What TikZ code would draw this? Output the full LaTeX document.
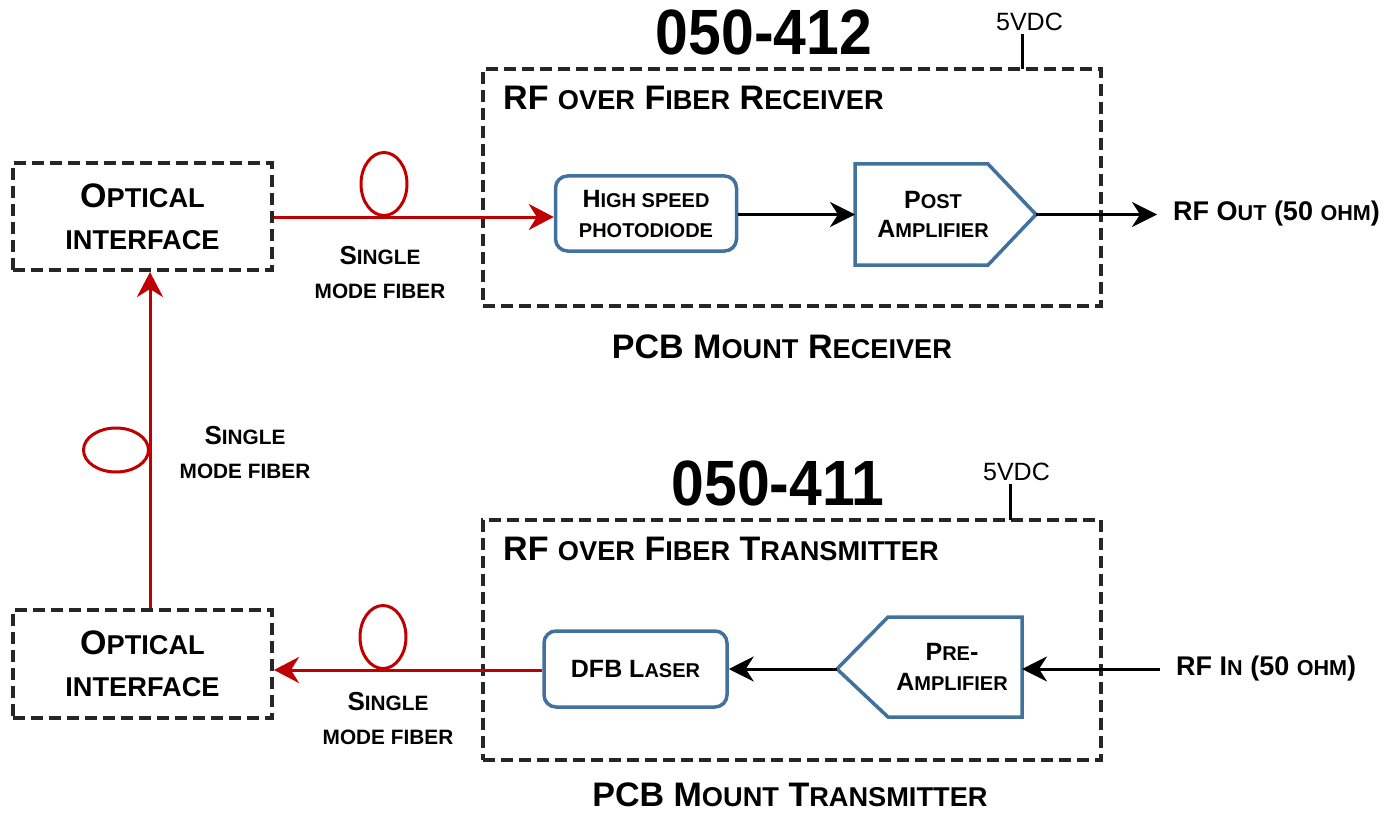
\documentclass[tikz,border=0pt]{standalone}
\usepackage{fontspec}
\setmainfont{Liberation Sans}
\newfontfamily\narrowfont{Liberation Sans}[FakeStretch=0.92]
\usetikzlibrary{positioning}
\usetikzlibrary{arrows.meta}
\usetikzlibrary{shapes}

\definecolor{fibred}{RGB}{192,0,0}
\definecolor{boxblue}{RGB}{65,113,156}
\definecolor{dashgray}{RGB}{38,38,38}

% fake small capitals
\newcommand{\lc}[1]{\scalebox{0.8}{#1}}

\begin{document}
\begin{tikzpicture}[x=1pt,y=-1pt,
  module/.style={draw=dashgray,line width=4pt,dash pattern=on 12pt off 6pt,inner sep=0pt},
  iface/.style={module,align=center,font=\fontsize{34}{42}\selectfont\bfseries},
  part/.style={draw=boxblue,line width=3.5pt,rounded corners=12pt,inner sep=0pt,align=center,font=\fontsize{25}{30}\selectfont\bfseries},
  amptext/.style={align=center,inner sep=0pt,font=\fontsize{25}{29.5}\selectfont\bfseries},
  ampline/.style={draw=boxblue,line width=3.5pt},
  sig/.style={draw=black,line width=3pt,-{Stealth[length=25pt,width=25pt,inset=8pt]}},
  fiber/.style={draw=fibred,line width=3pt,-{Stealth[length=25pt,width=26pt,inset=8pt]}},
  coil/.style={ellipse,draw=fibred,line width=3pt,inner sep=0pt},
  note/.style={align=center,font=\fontsize{26}{34}\selectfont\bfseries},
  heading/.style={anchor=base west,inner sep=0pt,font=\fontsize{34}{40}\selectfont\bfseries},
  caption/.style={font=\fontsize{34}{40}\selectfont\bfseries},
  partno/.style={font=\fontsize{64}{70}\selectfont\narrowfont\bfseries},
  volt/.style={font=\fontsize{25}{30}\selectfont},
  port/.style={anchor=west,inner xsep=16pt,font=\fontsize{27}{30}\selectfont\bfseries}
]
\useasboundingbox (0,0) rectangle (1399,813);

% optical interfaces
\node[iface,minimum width=259pt,minimum height=107pt] (optA) at (142.5,216.5) {O\lc{PTICAL}\\\lc{INTERFACE}};
\node[iface,minimum width=259pt,minimum height=108pt] (optB) at (142.5,664) {O\lc{PTICAL}\\\lc{INTERFACE}};

% receiver module
\node[module,minimum width=618pt,minimum height=237pt] (rxbox) at (792,187.5) {};
\node[partno] (rxno) at (764,32.5) {050-412};
\node[volt] (rxvdc) at (1029.5,22) {5VDC};
\node[heading] (rxtitle) at (503,110) {RF \lc{OVER} F\lc{IBER} R\lc{ECEIVER}};
\node[part,minimum width=181pt,minimum height=75pt] (pd) at (646,213.5) {H\lc{IGH SPEED}\\\lc{PHOTODIODE}};
\node[amptext] (postamp) at (933,214.5) {P\lc{OST}\\A\lc{MPLIFIER}};
\draw[ampline] (855,164) -- (988,164) -- (1036,214.5) -- (988,265) -- (855,265) -- cycle;
\coordinate (postamp-in) at (855,214.5);
\coordinate (postamp-out) at (1036,214.5);
\node[port] (rfout) at (1157,214) {RF O\lc{UT} (50 \lc{OHM})};
\node[caption] (rxcap) at (782,346.5) {PCB M\lc{OUNT} R\lc{ECEIVER}};
\coordinate (rxpwr) at (1022,69);

% transmitter module
\node[module,minimum width=618pt,minimum height=240pt] (txbox) at (792,640) {};
\node[partno] (txno) at (778,483.5) {050-411};
\node[volt] (txvdc) at (1016.5,472) {5VDC};
\node[heading] (txtitle) at (503,560) {RF \lc{OVER} F\lc{IBER} T\lc{RANSMITTER}};
\node[part,minimum width=183pt,minimum height=76pt] (dfb) at (635.5,669) {DFB L\lc{ASER}};
\node[amptext] (preamp) at (952,667) {P\lc{RE}-\\A\lc{MPLIFIER}};
\draw[ampline] (1022,617) -- (888,617) -- (837,669) -- (888,717) -- (1022,717) -- cycle;
\coordinate (preamp-in) at (1022,669);
\coordinate (preamp-out) at (837,669);
\node[port] (rfin) at (1160,669) {RF I\lc{N} (50 \lc{OHM})};
\node[caption] (txcap) at (790,795) {PCB M\lc{OUNT} T\lc{RANSMITTER}};
\coordinate (txpwr) at (1010,520);

% fibre runs
\coordinate (riser) at (150,450);
\node[coil,minimum width=46pt,minimum height=63pt,anchor=south] (coilA) at (384,217) {};
\node[coil,minimum width=46pt,minimum height=63pt,anchor=south] (coilB) at (383,670) {};
\node[coil,minimum width=65pt,minimum height=44pt,anchor=east] (coilC) at (riser) {};
\node[note] (fibA) at (380,273) {S\lc{INGLE}\\\lc{MODE FIBER}};
\node[note] (fibB) at (245,453) {S\lc{INGLE}\\\lc{MODE FIBER}};
\node[note] (fibC) at (388,719) {S\lc{INGLE}\\\lc{MODE FIBER}};

\path
  (optA.east |- 0,217) edge[fiber] (pd.west |- 0,217)
  (dfb.west |- 0,670) edge[fiber] (optB.east |- 0,670)
  (optB.north -| riser) edge[fiber] (optA.south -| riser);

\path
  (pd.east |- postamp-in) edge[sig] (postamp-in)
  (postamp-out) edge[sig] (postamp-out -| rfout.west)
  (preamp-out) edge[sig] (preamp-out -| dfb.east)
  (rfin.west |- preamp-in) edge[sig] (preamp-in);

\draw[line width=3pt] (rxpwr) -- (rxpwr |- rxvdc.south);
\draw[line width=3pt] (txpwr) -- (txpwr |- txvdc.south);
\end{tikzpicture}
\end{document}
